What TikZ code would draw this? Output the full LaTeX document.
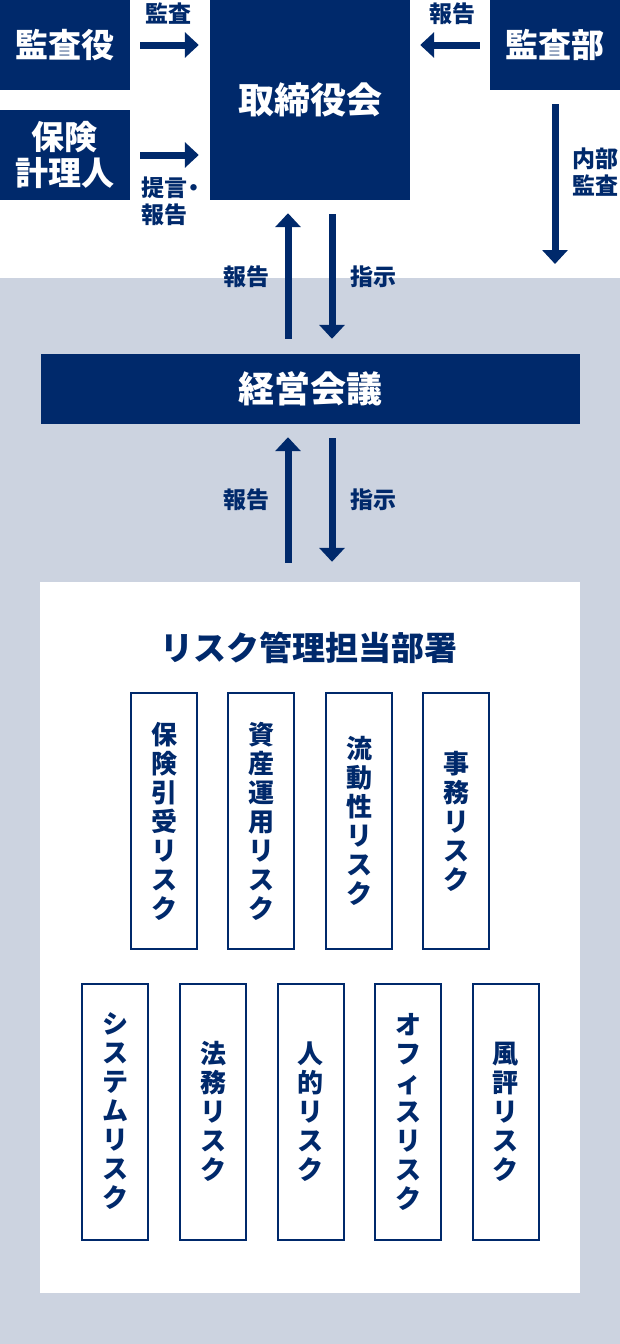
\documentclass[tikz,border=0pt]{standalone}
\usepackage{fontspec}
\setmainfont{Noto Sans CJK JP}
\usetikzlibrary{arrows.meta}
\definecolor{navy}{RGB}{0,41,107}
\definecolor{bggray}{RGB}{204,211,224}
\tikzset{
  darkbox/.style={fill=navy, text=white, inner sep=0pt, font=\bfseries\fontsize{33}{36}\selectfont, align=center},
  bigbox/.style={darkbox, font=\bfseries\fontsize{36}{40}\selectfont},
  riskbox/.style={draw=navy, line width=2pt, fill=white, text=navy, inner sep=0pt,
    minimum width=66pt, minimum height=256pt, align=center, font=\bfseries\fontsize{26}{29}\selectfont},
  lbl/.style={text=navy, inner sep=0pt, font=\bfseries\fontsize{23}{26.5}\selectfont, align=left},
  arr/.style={draw=navy, line width=7pt, -{Triangle[length=14pt,width=25pt]}},
}
\begin{document}
\begin{tikzpicture}[x=1pt,y=-1pt]
\useasboundingbox (0,0) rectangle (620,1344);
\fill[bggray] (0,278) rectangle (620,1344);
% top boxes
\node[darkbox, minimum width=130pt, minimum height=90pt] (kansayaku) at (65,45) {監査役};
\node[darkbox, minimum width=130pt, minimum height=90pt] (hoken) at (65,155) {保険\\計理人};
\node[bigbox, minimum width=200pt, minimum height=200pt] (board) at (310,100) {取締役会};
\node[darkbox, minimum width=130pt, minimum height=90pt] (kansabu) at (555,45) {監査部};
% management meeting
\node[bigbox, minimum width=539pt, minimum height=70pt] (keiei) at (310.5,389) {経営会議};
% risk dept
\node[fill=white, inner sep=0pt, minimum width=540pt, minimum height=711pt] (dept) at (310,937.5) {};
\node[text=navy, inner sep=0pt, font=\bfseries\fontsize{33}{36}\selectfont] (title) at (309,648) {リスク管理担当部署};
% risk boxes row 1
\node[riskbox] (r1) at (164,821) {保\\険\\引\\受\\リ\\ス\\ク};
\node[riskbox] (r2) at (261,821) {資\\産\\運\\用\\リ\\ス\\ク};
\node[riskbox] (r3) at (359,821) {流\\動\\性\\リ\\ス\\ク};
\node[riskbox] (r4) at (456,821) {事\\務\\リ\\ス\\ク};
% row 2
\node[riskbox] (s1) at (115,1111.5) {シ\\ス\\テ\\ム\\リ\\ス\\ク};
\node[riskbox] (s2) at (213,1111.5) {法\\務\\リ\\ス\\ク};
\node[riskbox] (s3) at (310.5,1111.5) {人\\的\\リ\\ス\\ク};
\node[riskbox] (s4) at (408,1111.5) {オ\\フ\\ィ\\ス\\リ\\ス\\ク};
\node[riskbox] (s5) at (505.5,1111.5) {風\\評\\リ\\ス\\ク};
% helper coordinates
\coordinate (xL) at (288,0);
\coordinate (xR) at (332,0);
\coordinate (naibuEnd) at (555,264);
% arrows top
\draw[arr, shorten <=10pt, shorten >=11pt] (kansayaku.east) -- (kansayaku.east -| board.west);
\draw[arr, shorten <=10pt, shorten >=11pt] (hoken.east) -- (hoken.east -| board.west);
\draw[arr, shorten <=10pt, shorten >=10pt] (kansabu.west) -- (kansabu.west -| board.east);
\draw[arr, shorten <=14pt] (kansabu.south) -- (naibuEnd);
% board <-> keiei
\draw[arr, shorten <=15pt, shorten >=13pt] (keiei.north -| xL) -- (board.south -| xL);
\draw[arr, shorten <=14pt, shorten >=15pt] (board.south -| xR) -- (keiei.north -| xR);
% keiei <-> dept
\draw[arr, shorten <=19pt, shorten >=13pt] (dept.north -| xL) -- (keiei.south -| xL);
\draw[arr, shorten <=14pt, shorten >=20pt] (keiei.south -| xR) -- (dept.north -| xR);
% labels
\node[lbl] (l1) at (168,14) {監査};
\node[lbl, anchor=north west] (l2) at (141,177) {提言\kern-5pt・\\報告};
\node[lbl] (l3) at (452,14) {報告};
\node[lbl, anchor=north west] (l4) at (572,148) {内部\\監査};
\node[lbl] (l5) at (246,277) {報告};
\node[lbl] (l6) at (373,277) {指示};
\node[lbl] (l7) at (246,500) {報告};
\node[lbl] (l8) at (373,500) {指示};
\end{tikzpicture}
\end{document}
